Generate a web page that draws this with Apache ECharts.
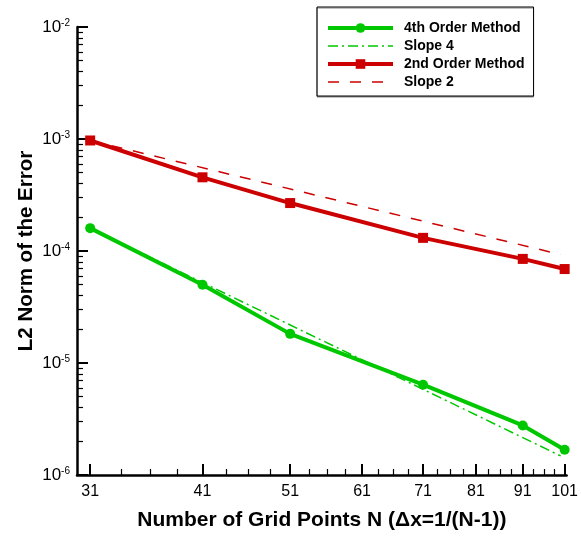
<!DOCTYPE html>
<html>
<head>
<meta charset="utf-8">
<script src="https://cdn.jsdelivr.net/npm/echarts@6/dist/echarts.min.js"></script>
<style>
	html, body { margin: 0; padding: 0; background: #fff; }
	#chart { width: 581px; height: 536px; }
</style>
</head>
<body>
<div id="chart"></div>
<script>
// grid points N and measured L2 errors
var gridPoints = [31, 41, 51, 71, 91, 101]
var fourthOrder = [1.6e-4, 5.0e-5, 1.82e-5, 6.4e-6, 2.77e-6, 1.68e-6]
var secondOrder = [9.7e-4, 4.55e-4, 2.68e-4, 1.31e-4, 8.5e-5, 6.9e-5]

// reference slope lines (end points)
var slope4X = [31, 100]
var slope4Y = [1.6e-4, 1.48e-6]
var slope2X = [31, 100]
var slope2Y = [9.7e-4, 9.3e-5]

// axis ticks
var xMajor = [31, 41, 51, 61, 71, 81, 91, 101]
var xMinor = [33.5, 36, 38.5, 43.5, 46, 48.5, 53.5, 56, 58.5, 63.5, 66, 68.5,
	73.5, 76, 78.5, 83.5, 86, 88.5, 93.5, 96, 98.5]
var yMajor = [1e-6, 1e-5, 1e-4, 1e-3, 1e-2]

var FONT = 'Liberation Sans'
var GREEN = '#00c800'
var RED = '#cc0000'

function pairs (xs, ys) {
	var out = [], i
	for (i = 0; i < xs.length; i++) {
		out.push([xs[i], ys[i]])
	}
	return out
}

var yMinor = []
yMajor.slice(0, -1).forEach(function (d) {
	for (var k = 2; k <= 9; k++) {
		yMinor.push(+(d * k).toPrecision(3))
	}
})

var chart = echarts.init(document.getElementById('chart'))

var option = {
	animation: false,
	backgroundColor: '#fff',
	textStyle: { fontFamily: FONT, color: '#000' },
	grid: { left: 77, right: 12, top: 27, bottom: 59, containLabel: false },
	legend: {
		orient: 'vertical',
		left: 317,
		top: 7,
		padding: [14, 9, 7, 9],
		backgroundColor: '#fff',
		borderColor: '#000',
		borderWidth: 1,
		shadowColor: '#888',
		shadowOffsetY: 1,
		itemWidth: 65,
		itemHeight: 12,
		itemGap: 4,
		data: [
			{ name: '4th Order Method', lineStyle: { width: 4 } },
			{ name: 'Slope 4', lineStyle: { width: 1.5 }, itemStyle: { opacity: 0 } },
			{ name: '2nd Order Method', lineStyle: { width: 4 } },
			{ name: 'Slope 2', lineStyle: { width: 1.5 }, itemStyle: { opacity: 0 } }
		],
		textStyle: { fontFamily: FONT, fontWeight: 'bold', fontSize: 14, color: '#000', padding: [0, 0, 0, 6] }
	},
	xAxis: [{
		type: 'log',
		min: 30,
		max: 101.5,
		name: 'Number of Grid Points N (\u0394x=1/(N-1))',
		nameLocation: 'middle',
		nameGap: 35,
		nameTextStyle: { fontFamily: FONT, fontWeight: 'bold', fontSize: 21, color: '#000' },
		axisLine: { show: true, lineStyle: { color: '#000', width: 2.5 } },
		axisTick: { inside: true, length: 11, customValues: xMajor, lineStyle: { color: '#000', width: 2 } },
		axisLabel: { customValues: xMajor, margin: 9, fontSize: 16, color: '#000', fontFamily: FONT },
		splitLine: { show: false },
		minorTick: { show: false }
	}, {
		type: 'log',
		min: 30,
		max: 101.5,
		position: 'bottom',
		axisLine: { show: false },
		axisTick: { inside: true, length: 6, customValues: xMinor, lineStyle: { color: '#000', width: 1.2 } },
		axisLabel: { show: false },
		splitLine: { show: false }
	}],
	yAxis: [{
		type: 'log',
		logBase: 10,
		min: 1e-6,
		max: 1e-2,
		name: 'L2 Norm of the Error',
		nameLocation: 'middle',
		nameGap: 40,
		nameMoveOverlap: false,
		nameTextStyle: { fontFamily: FONT, fontWeight: 'bold', fontSize: 20.5, color: '#000' },
		axisLine: { show: true, lineStyle: { color: '#000', width: 2.5 } },
		axisTick: { inside: true, length: 11, customValues: yMajor, lineStyle: { color: '#000', width: 2 } },
		axisLabel: {
			customValues: yMajor,
			margin: 7,
			formatter: function (value) {
				return '{b|10}{s|' + Math.round(Math.log10(value)) + '}'
			},
			rich: {
				b: { fontSize: 17, fontFamily: FONT, color: '#000', lineHeight: 17 },
				s: { fontSize: 10, fontFamily: FONT, color: '#000', verticalAlign: 'top', lineHeight: 10, padding: [0, 0, 6, 0] }
			}
		},
		splitLine: { show: false }
	}, {
		type: 'log',
		logBase: 10,
		min: 1e-6,
		max: 1e-2,
		position: 'left',
		axisLine: { show: false },
		axisTick: { inside: true, length: 6, customValues: yMinor, lineStyle: { color: '#000', width: 1.2 } },
		axisLabel: { show: false },
		splitLine: { show: false }
	}],
	series: [{
		name: '4th Order Method',
		type: 'line',
		data: pairs(gridPoints, fourthOrder),
		symbol: 'circle',
		symbolSize: 10,
		color: GREEN,
		lineStyle: { color: GREEN, width: 4 },
		itemStyle: { color: GREEN },
		z: 3
	}, {
		name: 'Slope 4',
		type: 'line',
		data: pairs(slope4X, slope4Y),
		symbol: 'none',
		color: GREEN,
		lineStyle: { color: GREEN, width: 1.5, type: [10, 4, 2, 4] },
		z: 4
	}, {
		name: '2nd Order Method',
		type: 'line',
		data: pairs(gridPoints, secondOrder),
		symbol: 'rect',
		symbolSize: 10,
		color: RED,
		lineStyle: { color: RED, width: 4 },
		itemStyle: { color: RED },
		z: 3
	}, {
		name: 'Slope 2',
		type: 'line',
		data: pairs(slope2X, slope2Y),
		symbol: 'none',
		color: RED,
		lineStyle: { color: RED, width: 1.5, type: [11, 11] },
		z: 4
	}]
}

chart.setOption(option)
</script>
</body>
</html>
